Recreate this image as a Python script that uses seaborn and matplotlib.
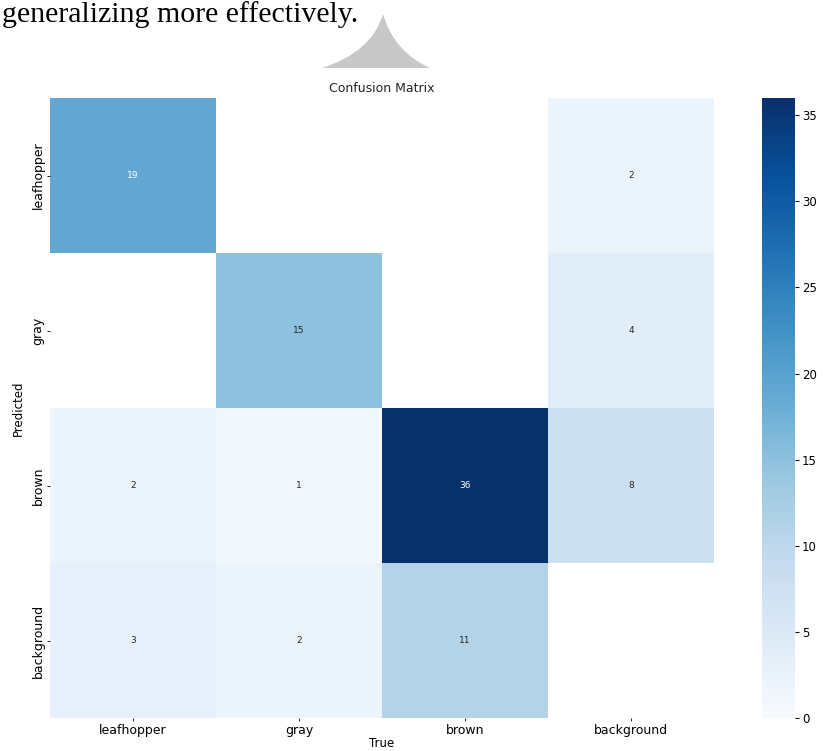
import numpy as np
import matplotlib
matplotlib.use("Agg")
import matplotlib.pyplot as plt
from matplotlib.path import Path
from matplotlib.patches import PathPatch
import seaborn as sns

labels = ["leafhopper", "gray", "brown", "background"]
# rows = Predicted, columns = True
counts = [
    [19, 0, 0, 2],
    [0, 15, 0, 4],
    [2, 1, 36, 8],
    [3, 2, 11, 0],
]
cbar_ticks = [0, 5, 10, 15, 20, 25, 30, 35]

W, H = 824, 751
fig = plt.figure(figsize=(W / 100, H / 100), dpi=100)
ax = fig.add_axes([50 / W, 1 - 718 / H, 664 / W, 620 / H])
cax = fig.add_axes([762 / W, 1 - 718 / H, 33 / W, 620 / H])

data = np.array(counts, dtype=float)
sns.heatmap(data, ax=ax, cbar_ax=cax, cmap="Blues", vmin=0, vmax=36,
            mask=data < 0.005, annot=True, fmt="g",
            annot_kws={"size": 6.5},
            xticklabels=labels, yticklabels=labels, square=False)

ax.set_title("Confusion Matrix", fontsize=9, color="#222222", pad=4)
ax.set_xlabel("True", fontsize=8.5, labelpad=0)
ax.set_ylabel("Predicted", fontsize=8.5, labelpad=5)
ax.tick_params(axis="both", labelsize=9, length=2, width=0.6, pad=2)
plt.setp(ax.get_yticklabels(), rotation=90, va="center")
plt.setp(ax.get_xticklabels(), rotation=0)

cax.set_yticks(cbar_ticks)
cax.tick_params(labelsize=8.5, length=3, width=0.8, pad=2)
for s in cax.spines.values():
    s.set_visible(False)

# page text above the figure
fig.text(2 / W, 1 - 1 / H, "generalizing more effectively.",
         family="Liberation Serif", fontsize=21.5, ha="left", va="top")

# gray arrow-like artifact above the title
to_fig = lambda x, y: (x / W, 1 - y / H)
verts = [to_fig(322, 68), to_fig(372, 52), to_fig(383, 14),
         to_fig(394, 52), to_fig(430, 68), to_fig(322, 68)]
codes = [Path.MOVETO, Path.CURVE3, Path.CURVE3,
         Path.CURVE3, Path.CURVE3, Path.CLOSEPOLY]
fig.patches.append(PathPatch(Path(verts, codes), transform=fig.transFigure,
                             facecolor="#c8c8c8", edgecolor="none"))

fig.savefig("out.png", dpi=100)
